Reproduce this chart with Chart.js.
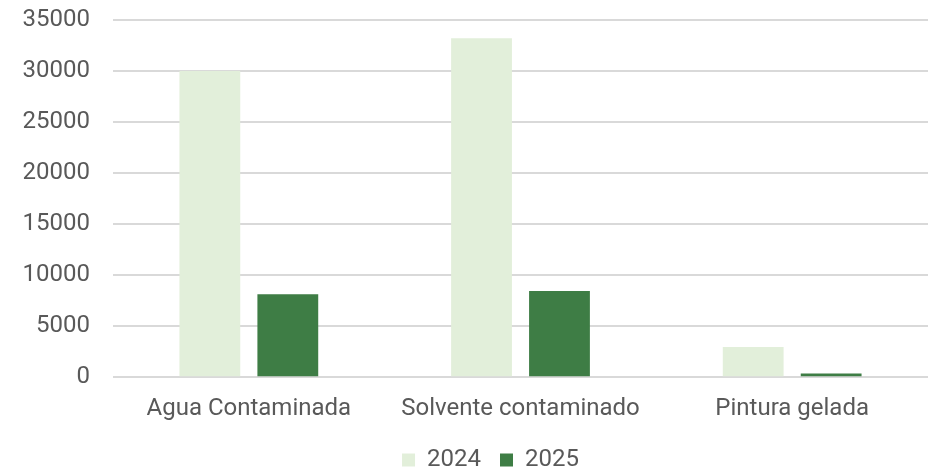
<!DOCTYPE html>
<html>
<head>
<meta charset="utf-8">
<script src="https://cdn.jsdelivr.net/npm/chart.js@4/dist/chart.umd.min.js"></script>
<style>
  html, body { margin: 0; padding: 0; background: #fff; }
  #wrap { width: 928px; height: 470px; }
</style>
</head>
<body>
<div id="wrap"><canvas id="myChart"></canvas></div>
<script>
let categories = ['Agua Contaminada', 'Solvente contaminado', 'Pintura gelada'];
let seriesNames = ['2024', '2025'];
let values2024 = [30000, 33200, 2950];
let values2025 = [8130, 8450, 360];
let yTicks = [0, 5000, 10000, 15000, 20000, 25000, 30000, 35000];

let colorHex = ['#e2efda', '#3e7d45'];
let textColor = '#595959';

let ctx = document.getElementById('myChart').getContext('2d');

// the legend in the original sits a little right of centre
let shiftLegend = {
  id: 'shiftLegend',
  afterLayout: (chart) => {
    chart.legend.left += 25;
    chart.legend.right += 25;
  }
};

let myChart = new Chart(ctx, {
  type: 'bar',
  data: {
    labels: categories,
    datasets: [{
      label: seriesNames[0],
      data: values2024,
      backgroundColor: colorHex[0],
      categoryPercentage: 0.574,
      barPercentage: 0.78
    }, {
      label: seriesNames[1],
      data: values2025,
      backgroundColor: colorHex[1],
      categoryPercentage: 0.574,
      barPercentage: 0.78
    }]
  },
  plugins: [shiftLegend],
  options: {
    responsive: true,
    maintainAspectRatio: false,
    animation: false,
    layout: {
      padding: { left: 0, right: -3, top: 0, bottom: -12 }
    },
    scales: {
      x: {
        afterFit: (scale) => {
          // labels may hang into the legend's top padding
          scale.height -= 11;
        },
        grid: { display: false, drawTicks: false },
        border: { display: false },
        ticks: {
          color: textColor,
          font: { family: 'Roboto', size: 24 },
          padding: 17,
          maxRotation: 0
        }
      },
      y: {
        min: 0,
        max: 35000,
        afterBuildTicks: (axis) => {
          axis.ticks = yTicks.map(v => ({ value: v }));
        },
        afterFit: (scale) => {
          // keep the plot where the original one sits
          scale.width = 113;
          scale.paddingTop = 20;
        },
        grid: { color: '#d9d9d9', lineWidth: 2, drawTicks: false },
        border: { display: false },
        ticks: {
          color: textColor,
          font: { family: 'Roboto', size: 24 },
          padding: 23,
          callback: (value) => String(value)
        }
      }
    },
    plugins: {
      legend: {
        position: 'bottom',
        labels: {
          color: textColor,
          font: { family: 'Roboto', size: 24 },
          boxWidth: 13,
          boxHeight: 13,
          padding: 19
        }
      },
      tooltip: { enabled: false }
    }
  }
})
</script>
</body>
</html>
